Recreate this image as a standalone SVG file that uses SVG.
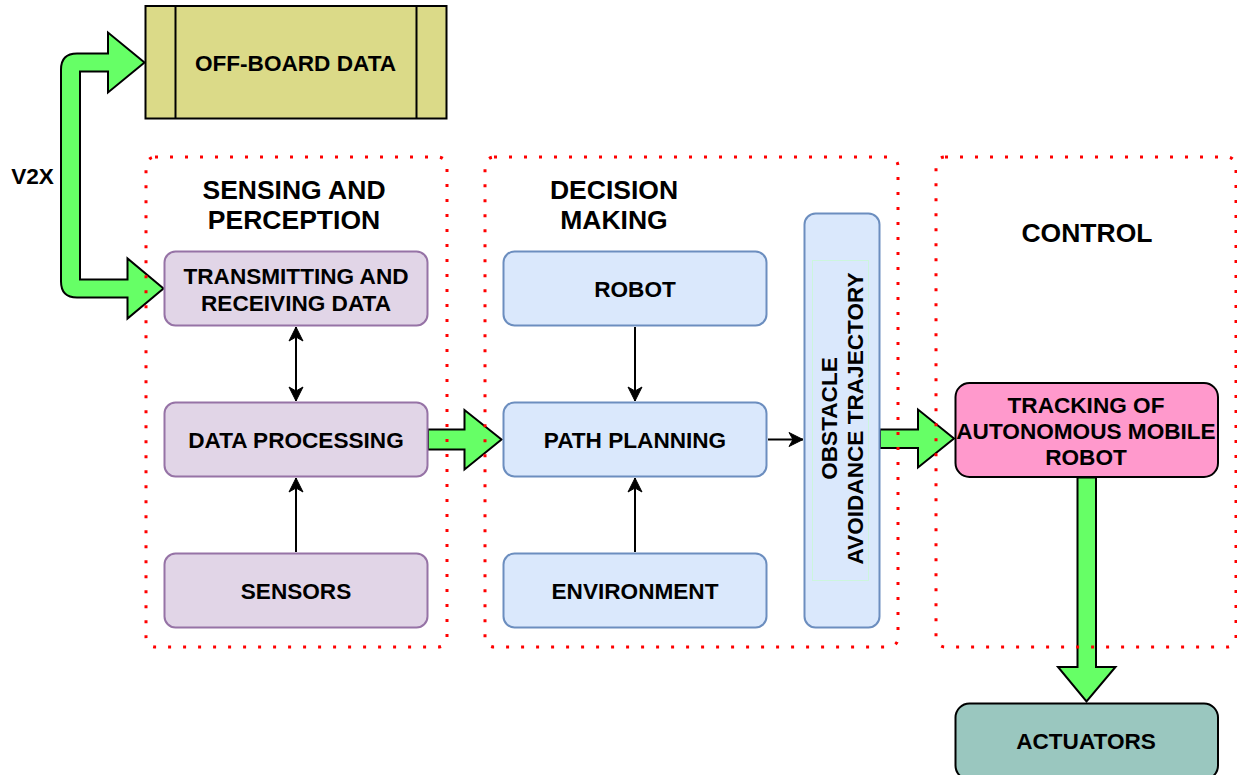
<svg xmlns="http://www.w3.org/2000/svg" width="1237" height="775" viewBox="0 0 1237 775">
  <style>
    .t { font-family: "Liberation Sans", Arial, sans-serif; font-weight: bold; fill: #000; text-anchor: middle; }
    .title { font-size: 26.5px; }
    .lbl { font-size: 22.6px; }
    .purple { fill: #e1d5e7; stroke: #9673a6; stroke-width: 2; }
    .blue { fill: #dae8fc; stroke: #6c8ebf; stroke-width: 2; }
    .group { fill: none; stroke: #ff0000; stroke-width: 3; stroke-dasharray: 3 12; }
    .fat { fill: #66ff66; stroke: #000; stroke-width: 2; stroke-linejoin: miter; }
    .thin { fill: none; stroke: #000; stroke-width: 2; }
  </style>
  <defs>
    <marker id="arrow" markerUnits="userSpaceOnUse" markerWidth="16" markerHeight="16" viewBox="0 0 16 16" refX="15" refY="8" orient="auto-start-reverse">
      <path d="M1,1 L15,8 L1,15 L5,8 Z" fill="#000" stroke="#000" stroke-width="1"/>
    </marker>
  </defs>

  <!-- off-board data store -->
  <g id="offboard">
    <rect x="145.5" y="6" width="301" height="112.5" fill="#dbda88" stroke="#000" stroke-width="2"/>
    <line x1="175.5" y1="6" x2="175.5" y2="118.5" stroke="#000" stroke-width="2"/>
    <line x1="416.5" y1="6" x2="416.5" y2="118.5" stroke="#000" stroke-width="2"/>
    <text class="t lbl" x="295.5" y="70.5">OFF-BOARD DATA</text>
  </g>

  <text id="v2x-label" class="t lbl" x="32.5" y="184">V2X</text>

  <!-- connectors -->
  <g id="connectors">
    <path class="fat" d="M144.5 62.5 L108 32.5 L108 53.5 L77 53.5 Q61 53.5 61 69.5 L61 281.5 Q61 297.5 77 297.5 L127.5 297.5 L127.5 318.5 L163.5 288.5 L127.5 258.5 L127.5 279.5 L80 279.5 L80 71.5 L108 71.5 L108 92.5 Z"/>
    <path class="fat" d="M428 429.5 L464.5 429.5 L464.5 410 L501.5 439.5 L464.5 469.5 L464.5 449.5 L428 449.5 Z"/>
    <path class="fat" d="M880 429.5 L918 429.5 L918 409.5 L954 438.5 L918 467.5 L918 448 L880 448 Z"/>
    <path class="fat" d="M1077.5 477.5 L1077.5 667 L1058 667 L1086.5 701.5 L1115.5 667 L1096 667 L1096 477.5 Z"/>
    <line class="thin" x1="296" y1="327" x2="296" y2="401" marker-start="url(#arrow)" marker-end="url(#arrow)"/>
    <line class="thin" x1="296" y1="552" x2="296" y2="478" marker-end="url(#arrow)"/>
    <line class="thin" x1="635" y1="327" x2="635" y2="401" marker-end="url(#arrow)"/>
    <line class="thin" x1="635" y1="552" x2="635" y2="478" marker-end="url(#arrow)"/>
    <line class="thin" x1="768" y1="439.5" x2="803" y2="439.5" marker-end="url(#arrow)"/>
  </g>

  <!-- sensing and perception -->
  <g id="transmitting">
    <rect class="purple" x="164.5" y="251.5" width="263" height="74" rx="11"/>
    <text class="t lbl" x="296" y="284">TRANSMITTING AND</text>
    <text class="t lbl" x="296" y="310.5">RECEIVING DATA</text>
  </g>
  <g id="data-processing">
    <rect class="purple" x="164.5" y="402.5" width="263" height="74" rx="11"/>
    <text class="t lbl" x="296" y="447.5">DATA PROCESSING</text>
  </g>
  <g id="sensors">
    <rect class="purple" x="164.5" y="553.5" width="263" height="74" rx="11"/>
    <text class="t lbl" x="296" y="598.5">SENSORS</text>
  </g>

  <!-- decision making -->
  <g id="robot">
    <rect class="blue" x="503.5" y="251.5" width="263" height="74" rx="11"/>
    <text class="t lbl" x="635" y="296.5">ROBOT</text>
  </g>
  <g id="path-planning">
    <rect class="blue" x="503.5" y="402.5" width="263" height="74" rx="11"/>
    <text class="t lbl" x="635" y="447.5">PATH PLANNING</text>
  </g>
  <g id="environment">
    <rect class="blue" x="503.5" y="553.5" width="263" height="74" rx="11"/>
    <text class="t lbl" x="635" y="598.5">ENVIRONMENT</text>
  </g>
  <g id="obstacle-avoidance">
    <rect class="blue" x="804.5" y="213.5" width="75" height="414" rx="11"/>
    <rect x="812.5" y="260.5" width="56" height="320" fill="none" stroke="#ccf5dd" stroke-width="1"/>
    <text class="t lbl" transform="translate(837 418.5) rotate(-90)" x="0" y="0">OBSTACLE</text>
    <text class="t lbl" transform="translate(863 418.5) rotate(-90)" x="0" y="0">AVOIDANCE TRAJECTORY</text>
  </g>

  <!-- control -->
  <g id="tracking">
    <rect x="955.5" y="383" width="262.5" height="94" rx="14" fill="#ff99cc" stroke="#000" stroke-width="2"/>
    <text class="t lbl" x="1086" y="412.5">TRACKING OF</text>
    <text class="t lbl" x="1086" y="438.5">AUTONOMOUS MOBILE</text>
    <text class="t lbl" x="1086" y="464.5">ROBOT</text>
  </g>
  <g id="actuators">
    <rect x="955.5" y="703.5" width="262.5" height="76" rx="14" fill="#9ac7bf" stroke="#000" stroke-width="2"/>
    <text class="t lbl" x="1086" y="748.5">ACTUATORS</text>
  </g>

  <!-- dotted group frames -->
  <g id="sensing-perception">
    <rect class="group" x="146" y="157" width="301" height="490" rx="9"/>
    <text class="t title" x="294" y="199">SENSING AND</text>
    <text class="t title" x="294" y="229">PERCEPTION</text>
  </g>
  <g id="decision-making">
    <rect class="group" x="485" y="157" width="413" height="490" rx="9"/>
    <text class="t title" x="614" y="199">DECISION</text>
    <text class="t title" x="614" y="229">MAKING</text>
  </g>
  <g id="control">
    <rect class="group" x="936" y="157" width="300" height="490" rx="9"/>
    <text class="t title" x="1087" y="242">CONTROL</text>
  </g>
</svg>
